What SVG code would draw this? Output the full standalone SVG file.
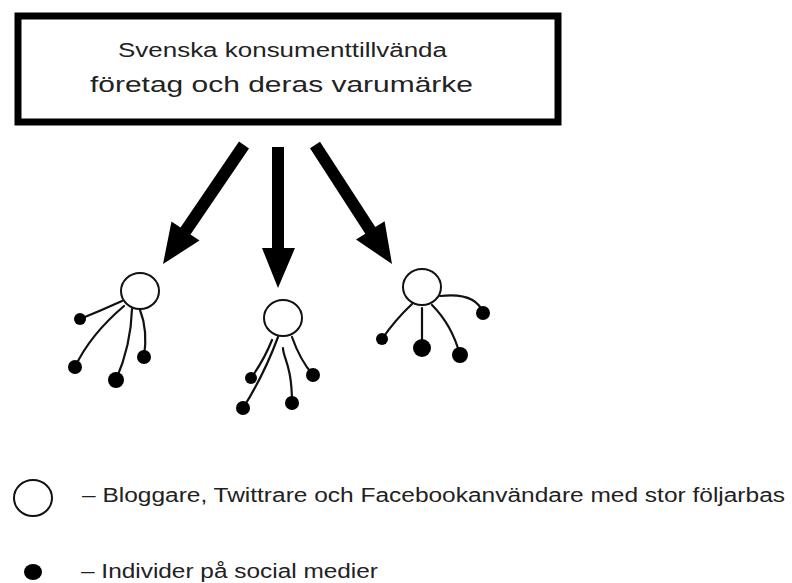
<svg xmlns="http://www.w3.org/2000/svg" width="792" height="583" viewBox="0 0 792 583">
<style>
.t{font-family:"Liberation Sans","DejaVu Sans",sans-serif;fill:#222}
.hub{fill:#fff;stroke:#111;stroke-width:2}
.dot{fill:#000}
.ln{fill:none;stroke:#111;stroke-width:2.2;stroke-linecap:round}
.arr{fill:#000}
</style>
<rect width="792" height="583" fill="#fff"/>
<g id="company">
<rect x="18" y="16" width="540" height="106" fill="#fff" stroke="#000" stroke-width="7"/>
<text class="t" x="118" y="57" font-size="20" textLength="329" lengthAdjust="spacingAndGlyphs">Svenska konsumenttillvända</text>
<text class="t" x="90" y="92" font-size="22" textLength="383" lengthAdjust="spacingAndGlyphs">företag och deras varumärke</text>
</g>
<g id="connectors">
<polygon class="arr" points="239,141.6 249,148.4 190.5,234.4 199.5,240.6 163,264 171.5,221.4 180.5,227.6"/>
<polygon class="arr" points="272,147 284,147 284,248 295,248 278,288 262,248 272,248"/>
<polygon class="arr" points="310,148.3 320,141.7 375.3,227.1 384.6,221.2 392,264 356,239.6 365.3,233.7"/>
</g>
<g id="cluster1">
<path class="ln" d="M122,301 Q100,311 80,319"/>
<path class="ln" d="M124,306 Q90,335 75,367"/>
<path class="ln" d="M132,309 Q131,345 116,380"/>
<path class="ln" d="M140,310 Q148,330 144,357"/>
<ellipse class="hub" cx="140" cy="291" rx="19" ry="18"/>
<circle class="dot" cx="80" cy="319" r="6"/>
<circle class="dot" cx="75" cy="367" r="7"/>
<circle class="dot" cx="116" cy="380" r="8"/>
<circle class="dot" cx="144" cy="357" r="7"/>
</g>
<g id="cluster2">
<path class="ln" d="M272,340 Q264,360 251,378"/>
<path class="ln" d="M278,337 Q264,375 243,408"/>
<path class="ln" d="M283,348 C283,358 292,365 292,403"/>
<path class="ln" d="M292,337 Q300,360 313,375"/>
<ellipse class="hub" cx="283" cy="318" rx="19" ry="18"/>
<circle class="dot" cx="251" cy="378" r="6"/>
<circle class="dot" cx="243" cy="408" r="7"/>
<circle class="dot" cx="292" cy="403" r="7"/>
<circle class="dot" cx="313" cy="375" r="7"/>
</g>
<g id="cluster3">
<path class="ln" d="M412,304 Q395,320 382,339"/>
<path class="ln" d="M422,308 L422,340"/>
<path class="ln" d="M432,305 Q452,325 460,355"/>
<path class="ln" d="M440,296 Q476,292 483,313"/>
<ellipse class="hub" cx="422" cy="287" rx="19" ry="18"/>
<circle class="dot" cx="382" cy="339" r="6"/>
<circle class="dot" cx="422" cy="348" r="9"/>
<circle class="dot" cx="460" cy="355" r="8"/>
<circle class="dot" cx="483" cy="313" r="7"/>
</g>
<g id="legend-hub">
<ellipse class="hub" cx="33" cy="498" rx="19" ry="18"/>
<text class="t" x="82" y="502" font-size="20" textLength="703" lengthAdjust="spacingAndGlyphs">– Bloggare, Twittrare och Facebookanvändare med stor följarbas</text>
</g>
<g id="legend-dot">
<ellipse class="dot" cx="33" cy="572" rx="9" ry="8"/>
<text class="t" x="81" y="578" font-size="20" textLength="297" lengthAdjust="spacingAndGlyphs">– Individer på social medier</text>
</g>
</svg>
